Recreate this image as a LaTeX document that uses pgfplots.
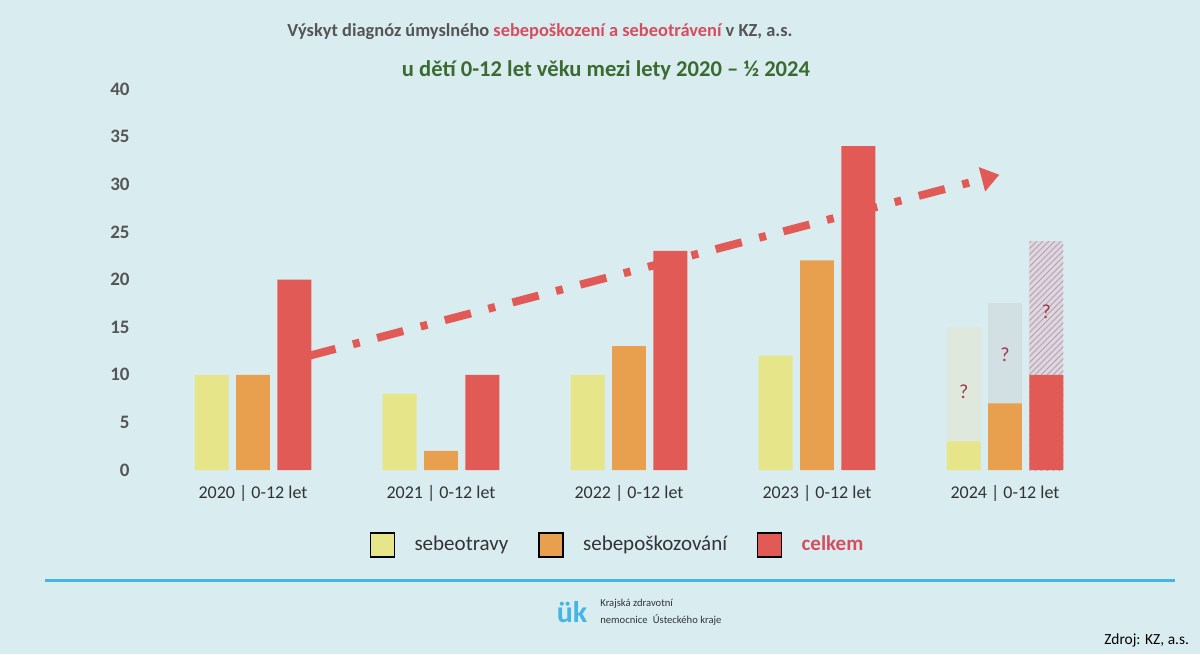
\documentclass[border=0pt]{standalone}
\usepackage{fontspec}
\setmainfont{Carlito}
\usepackage{pgfplots}
\pgfplotsset{compat=1.18}
\usetikzlibrary{patterns,arrows.meta}

\definecolor{bgblue}{HTML}{D9EDF1}
\definecolor{cyel}{HTML}{E6E58A}
\definecolor{corange}{HTML}{E8A04E}
\definecolor{cred}{HTML}{E25A55}
\definecolor{ctitle}{HTML}{555555}
\definecolor{ctred}{HTML}{D64E5E}
\definecolor{ctgreen}{HTML}{3B6B30}
\definecolor{cline}{HTML}{45B6E3}
\definecolor{cq}{HTML}{A0374A}
\definecolor{gyel}{HTML}{DEE8DD}
\definecolor{gorange}{HTML}{D2DFE3}
\definecolor{gred}{HTML}{DAD9E1}
\definecolor{hatch}{HTML}{C49AAB}

% 1 px of the reference = 0.5pt
\pgfplotsset{
  mybar/.style={ybar, bar width=0.18, draw=none,
    legend image code/.code={\draw[##1,draw=black,line width=0.6pt] (0pt,-6pt) rectangle (12pt,6pt); \path (20pt,0pt);}},
}

\begin{document}
\begin{tikzpicture}
\fill[bgblue] (0,0) rectangle (600pt,327pt);

\node[font=\bfseries\fontsize{9.2}{11}\selectfont, text=ctitle] at (270pt,311pt)
  {Výskyt diagnóz úmyslného \textcolor{ctred}{sebepoškození a sebeotrávení} v KZ, a.s.};
\node[font=\bfseries\fontsize{11.3}{13}\selectfont, text=ctgreen] at (303pt,292pt)
  {u dětí 0-12 let věku mezi lety 2020 – ½ 2024};

\begin{axis}[
  at={(79.5pt,92pt)}, anchor=south west,
  scale only axis, width=470pt, height=190.5pt,
  xmin=-0.5, xmax=4.5, ymin=0, ymax=40,
  ytick={0,5,...,40},
  xtick={0,...,4},
  xticklabels={2020 | 0-12 let, 2021 | 0-12 let, 2022 | 0-12 let, 2023 | 0-12 let, 2024 | 0-12 let},
  axis line style={draw=none},
  major tick length=0pt,
  /pgf/number format/assume math mode=true,
  yticklabel style={font=\bfseries\fontsize{9.5}{11}\selectfont, text=ctitle, anchor=east, inner sep=0pt, xshift=-14.5pt},
  xticklabel style={font=\fontsize{9}{11}\selectfont, text=black!80, yshift=-4pt},
  legend columns=3,
  legend style={at={(0.489,-0.197)}, anchor=center, draw=none, fill=none,
    font=\fontsize{10.5}{12}\selectfont, text=black!80,
    /tikz/every even column/.append style={column sep=13pt}},
  clip=false,
]
% trend arrow
\addplot[forget plot, cred, line width=4pt,
  dash pattern=on 13.5pt off 9pt on 3.5pt off 9pt,
  -{Triangle[length=9pt,width=12pt]}]
  coordinates {(0.30,12) (3.97,31)};

% 2024 projections
\addplot[mybar, bar shift=-0.22, fill=gyel, forget plot] coordinates {(4,15)};
\addplot[mybar, bar shift=0, fill=gorange, forget plot] coordinates {(4,17.5)};
\addplot[mybar, bar shift=0.22, fill=gred, forget plot,
  postaction={pattern=north east lines, pattern color=hatch}] coordinates {(4,24)};

\addplot[mybar, bar shift=-0.22, fill=cyel] coordinates {(0,10) (1,8) (2,10) (3,12) (4,3)};
\addplot[mybar, bar shift=0, fill=corange] coordinates {(0,10) (1,2) (2,13) (3,22) (4,7)};
\addplot[mybar, bar shift=0.22, fill=cred] coordinates {(0,20) (1,10) (2,23) (3,34) (4,10)};

\node[text=cq, font=\fontsize{10}{12}\selectfont] at (axis cs:3.78,8.2) {?};
\node[text=cq, font=\fontsize{10}{12}\selectfont] at (axis cs:4,12.1) {?};
\node[text=cq, font=\fontsize{10}{12}\selectfont] at (axis cs:4.22,16.6) {?};

\legend{sebeotravy, sebepoškozování, \textcolor{ctred}{\bfseries celkem}}
\end{axis}

\draw[cline, line width=1.5pt] (22.5pt,37pt) -- (587.5pt,37pt);
\node[text=cline, font=\bfseries\fontsize{15}{15}\selectfont] at (286pt,21pt) {ük};
\node[anchor=west, inner sep=0pt, text=black!80, font=\fontsize{5.3}{6}\selectfont] at (300pt,25pt) {Krajská zdravotní};
\node[anchor=west, inner sep=0pt, text=black!80, font=\fontsize{5.3}{6}\selectfont] at (300pt,17pt) {nemocnice\hspace{1.5pt} Ústeckého kraje};
\node[anchor=east, text=black, font=\fontsize{7.7}{9}\selectfont] at (598pt,7pt) {Zdroj: KZ, a.s.};
\end{tikzpicture}
\end{document}
